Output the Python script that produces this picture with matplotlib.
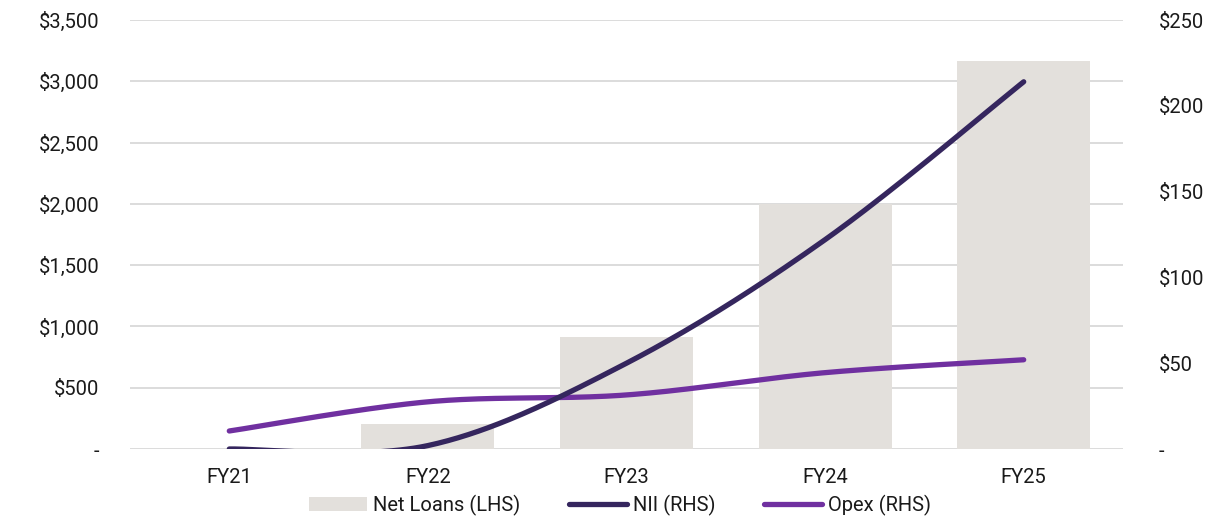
import numpy as np
import matplotlib
matplotlib.use("Agg")
import matplotlib.pyplot as plt
from matplotlib.patches import Patch
from matplotlib.lines import Line2D
from matplotlib.ticker import FuncFormatter

plt.rcParams['font.family'] = ['Roboto', 'DejaVu Sans']

# ── Data ───────────────────────────────────────────────────────
years = ['FY21', 'FY22', 'FY23', 'FY24', 'FY25']
net_loans = [0, 200, 915, 2000, 3165]      # LHS, $m
nii = [0, 2, 50, 122, 214]                  # RHS, $m
opex = [10.5, 27.5, 31.5, 44.5, 52]         # RHS, $m

BAR_COL = '#e3e0dc'
NII_COL = '#35265e'
OPEX_COL = '#7030a0'
GRID_COL = '#d9d9d9'
TXT_COL = '#1a1a1a'
FS = 14.5


def smooth(xs, ys, n=60):
    """Bezier smoothing through every point (spreadsheet-style smoothed line)."""
    x = np.asarray(xs, float)
    y = np.asarray(ys, float)
    px = np.concatenate([[x[0]], x, [x[-1]]])
    py = np.concatenate([[y[0]], y, [y[-1]]])
    out_x, out_y = [], []
    t = np.linspace(0, 1, n)
    for i in range(1, len(px) - 2):
        p0 = np.array([px[i], py[i]])
        p3 = np.array([px[i + 1], py[i + 1]])
        c1 = p0 + (np.array([px[i + 1], py[i + 1]]) - np.array([px[i - 1], py[i - 1]])) / 6
        c2 = p3 - (np.array([px[i + 2], py[i + 2]]) - np.array([px[i], py[i]])) / 6
        pts = ((1 - t)[:, None] ** 3 * p0 + 3 * ((1 - t) ** 2 * t)[:, None] * c1
               + 3 * ((1 - t) * t ** 2)[:, None] * c2 + (t ** 3)[:, None] * p3)
        out_x.extend(pts[:, 0])
        out_y.extend(pts[:, 1])
    return np.array(out_x), np.array(out_y)


def dollars(v, _):
    return '-' if abs(v) < 1e-9 else f'${v:,.0f}'


# ── Plot ───────────────────────────────────────────────────────
fig = plt.figure(figsize=(12.31, 5.17), dpi=100)
ax = fig.add_axes([130 / 1231, 68 / 517, 993 / 1231, 429 / 517])
x = np.arange(len(years))

ax.set_axisbelow(True)
ax.yaxis.grid(True, color=GRID_COL, linewidth=1.3)
ax.bar(x, net_loans, width=0.67, color=BAR_COL, zorder=2)
ax.set_ylim(0, 3500)
ax.set_yticks(np.arange(0, 3501, 500))
ax.yaxis.set_major_formatter(FuncFormatter(dollars))
ax.set_xlim(-0.5, len(years) - 0.5)
ax.set_xticks(x)
ax.set_xticklabels(years)
ax.tick_params(axis='y', length=0, pad=22, labelsize=FS, labelcolor=TXT_COL)
ax.tick_params(axis='x', length=0, pad=14, labelsize=FS, labelcolor=TXT_COL)
for s in ax.spines.values():
    s.set_visible(False)

ax2 = ax.twinx()
sx, sy = smooth(x, nii)
ax2.plot(sx, sy, color=NII_COL, linewidth=3.8, solid_capstyle='round', zorder=4)
sx, sy = smooth(x, opex)
ax2.plot(sx, sy, color=OPEX_COL, linewidth=3.8, solid_capstyle='round', zorder=3)
ax2.set_ylim(0, 250)
ax2.set_yticks(np.arange(0, 251, 50))
ax2.yaxis.set_major_formatter(FuncFormatter(dollars))
ax2.tick_params(axis='y', length=0, pad=26, labelsize=FS, labelcolor=TXT_COL)
for s in ax2.spines.values():
    s.set_visible(False)

# ── Legend ─────────────────────────────────────────────────────
handles = [
    Patch(facecolor=BAR_COL, edgecolor='none', label='Net Loans (LHS)'),
    Line2D([0], [0], color=NII_COL, linewidth=3.8, solid_capstyle='round', label='NII (RHS)'),
    Line2D([0], [0], color=OPEX_COL, linewidth=3.8, solid_capstyle='round', label='Opex (RHS)'),
]
fig.legend(handles=handles, loc='center', bbox_to_anchor=(620 / 1231, 12 / 517),
           ncol=3, frameon=False, fontsize=FS, handlelength=2.9, handleheight=0.7,
           handletextpad=0.3, columnspacing=2.4, labelcolor=TXT_COL)

fig.savefig('out.png', dpi=100)
